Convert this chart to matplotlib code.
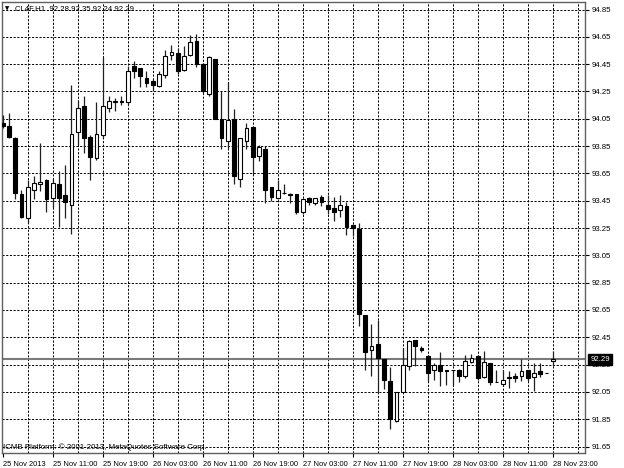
"""
CL4F H1 candlestick chart, MetaTrader style.
"""

import matplotlib
matplotlib.use('Agg')
import matplotlib.pyplot as plt

# ---- data ----
opens = [94.02, 94.00, 93.91, 93.50, 93.32, 93.53, 93.57, 93.60, 93.47, 93.57,
         93.49, 93.42, 93.95, 94.14, 93.92, 93.76, 93.93, 94.13, 94.17, 94.17,
         94.17, 94.44, 94.42, 94.35, 94.33, 94.29, 94.37, 94.52, 94.53, 94.41,
         94.52, 94.62, 94.45, 94.23, 94.49, 94.05, 93.89, 94.05, 93.61, 93.89,
         93.99, 93.78, 93.83, 93.55, 93.47, 93.51, 93.50, 93.50, 93.37, 93.47,
         93.43, 93.48, 93.42, 93.40, 93.38, 93.41, 93.27, 93.24, 92.61, 92.36,
         92.40, 92.29, 92.13, 91.84, 92.05, 92.24, 92.43, 92.37, 92.31, 92.21,
         92.25, 92.21, 92.21, 92.21, 92.17, 92.27, 92.31, 92.16, 92.26, 92.12,
         92.11, 92.16, 92.17, 92.17, 92.21, 92.16, 92.20, 92.19, 92.28]
highs = [94.08, 94.09, 93.92, 93.53, 93.60, 93.63, 93.87, 93.61, 93.61, 93.67,
         93.71, 94.30, 94.19, 94.22, 93.93, 94.17, 94.50, 94.22, 94.20, 94.22,
         94.44, 94.47, 94.42, 94.40, 94.34, 94.40, 94.55, 94.59, 94.57, 94.58,
         94.66, 94.67, 94.46, 94.51, 94.49, 94.25, 94.32, 94.12, 93.91, 94.02,
         93.99, 93.86, 93.85, 93.55, 93.60, 93.57, 93.51, 93.50, 93.47, 93.48,
         93.47, 93.49, 93.49, 93.48, 93.49, 93.44, 93.28, 93.29, 92.61, 92.55,
         92.58, 92.29, 92.23, 92.05, 92.37, 92.43, 92.43, 92.39, 92.32, 92.26,
         92.34, 92.21, 92.21, 92.22, 92.32, 92.33, 92.32, 92.35, 92.26, 92.21,
         92.21, 92.20, 92.19, 92.29, 92.21, 92.26, 92.26, 92.19, 92.35]
lows = [93.98, 93.91, 93.46, 93.32, 93.29, 93.46, 93.52, 93.37, 93.40, 93.26,
        93.32, 93.21, 93.86, 93.80, 93.60, 93.75, 93.91, 94.10, 94.11, 94.15,
        94.15, 94.35, 94.28, 94.28, 94.26, 94.28, 94.35, 94.48, 94.38, 94.40,
        94.51, 94.43, 94.24, 94.22, 94.05, 93.83, 93.83, 93.57, 93.55, 93.83,
        93.64, 93.74, 93.43, 93.45, 93.46, 93.50, 93.43, 93.35, 93.35, 93.42,
        93.42, 93.41, 93.35, 93.30, 93.33, 93.20, 93.19, 92.53, 92.21, 92.17,
        92.05, 92.07, 91.78, 91.83, 92.05, 92.21, 92.24, 92.34, 92.13, 92.14,
        92.09, 92.10, 92.10, 92.12, 92.15, 92.26, 92.14, 92.15, 92.10, 92.12,
        92.09, 92.08, 92.12, 92.13, 92.13, 92.06, 92.16, 92.19, 92.24]
closes = [94.00, 93.92, 93.51, 93.33, 93.55, 93.58, 93.59, 93.46, 93.58, 93.47,
          93.44, 93.94, 94.13, 93.91, 93.77, 93.94, 94.14, 94.18, 94.18, 94.18,
          94.40, 94.40, 94.36, 94.31, 94.30, 94.38, 94.51, 94.54, 94.40, 94.51,
          94.61, 94.45, 94.25, 94.50, 94.05, 93.91, 94.04, 93.63, 93.91, 93.98,
          93.77, 93.84, 93.53, 93.48, 93.53, 93.51, 93.49, 93.37, 93.46, 93.44,
          93.47, 93.44, 93.39, 93.37, 93.42, 93.26, 93.25, 92.62, 92.34, 92.39,
          92.30, 92.14, 91.85, 92.05, 92.25, 92.42, 92.39, 92.36, 92.19, 92.25,
          92.20, 92.20, 92.21, 92.17, 92.28, 92.30, 92.15, 92.27, 92.12, 92.12,
          92.14, 92.15, 92.15, 92.20, 92.15, 92.19, 92.18, 92.19, 92.29]

time_labels = ['25 Nov 2013', '25 Nov 11:00', '25 Nov 19:00', '26 Nov 03:00',
               '26 Nov 11:00', '26 Nov 19:00', '27 Nov 03:00', '27 Nov 11:00',
               '27 Nov 19:00', '28 Nov 03:00', '28 Nov 11:00', '28 Nov 23:00']
price_ticks = [91.65, 91.85, 92.05, 92.25, 92.45, 92.65, 92.85, 93.05,
               93.25, 93.45, 93.65, 93.85, 94.05, 94.25, 94.45, 94.65, 94.85]
last_price = 92.29

plt.rcParams['font.family'] = ['Liberation Sans', 'DejaVu Sans']
FS = 5.6

W, H = 624, 468
fig = plt.figure(figsize=(W / 100, H / 100), dpi=100)
ax = fig.add_axes([2 / W, (H - 453) / H, 583 / W, 451 / H])

n = len(opens)
xs = list(range(n))
up = [c >= o for o, c in zip(opens, closes)]

# wicks
ax.vlines(xs, lows, highs, color='#202020', lw=0.9, zorder=3)
# bodies
bottoms = [min(o, c) for o, c in zip(opens, closes)]
heights = [abs(c - o) for o, c in zip(opens, closes)]
fcs = ['white' if u else 'black' for u in up]
ax.bar(xs, heights, bottom=bottoms, width=0.62, color=fcs,
       edgecolor='black', linewidth=0.8, zorder=4)

# grid
for p in price_ticks:
    ax.axhline(p, color='black', lw=0.7, ls=(0, (2.2, 1.6)), zorder=1)
for gx in range(4, 94, 4):
    ax.axvline(gx, color='black', lw=0.7, ls=(0, (2.2, 1.6)), zorder=1)

# bid line
ax.axhline(last_price, color='#7a7a7a', lw=1.5, zorder=2)

ax.set_xlim(-0.11, 93.17)
ax.set_ylim(91.603, 94.905)

ax.yaxis.tick_right()
ax.set_yticks(price_ticks)
ax.set_yticklabels([f'{p:.2f}' for p in price_ticks])
ax.set_xticks(range(0, n, 8))
ax.set_xticklabels(time_labels, ha='left')
ax.tick_params(axis='both', labelsize=FS, length=3, width=0.8, pad=2,
               color='black')
ax.tick_params(axis='x', pad=2.5, labelsize=5.4)

for s in ax.spines.values():
    s.set_color('#606060')
    s.set_linewidth(1.0)

# price box on the axis
ax.text(1.009, last_price, f'{last_price:.2f}', transform=ax.get_yaxis_transform(),
        ha='left', va='center', fontsize=FS, color='white', zorder=6,
        bbox=dict(boxstyle='square,pad=0.25', fc='black', ec='black'))

# header and footer texts
fig.text(5 / W, 1 - 9 / H, '\u25bc', fontsize=4, va='center', ha='left',
         family=['DejaVu Sans'])
fig.text(15 / W, 1 - 9 / H, 'CL4F,H1  92.28 92.35 92.24 92.29',
         fontsize=FS, va='center', ha='left')
fig.text(3 / W, 1 - 447 / H,
         'ICMB Platform: \u00a9 2001-2013, MetaQuotes Software Corp.',
         fontsize=5.7, va='center', ha='left')

plt.savefig('out.png', dpi=100)
